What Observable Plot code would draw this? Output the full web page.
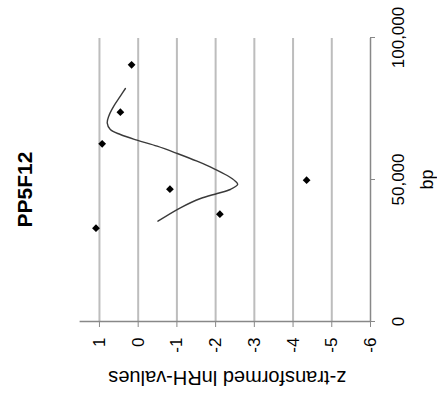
<!DOCTYPE html>
<html><head><meta charset="utf-8">
<script src="https://cdn.jsdelivr.net/npm/d3@7"></script>
<script src="https://cdn.jsdelivr.net/npm/@observablehq/plot@0.6"></script>
<style>
html,body{margin:0;padding:0;background:#fff;overflow:hidden;width:437px;height:398px;}
#rot{position:absolute;left:0;top:0;width:398px;height:437px;transform-origin:0 0;transform:translate(0px,398px) rotate(-90deg);}
</style></head><body><div id="rot"></div>
<script>
const titleText = "PP5F12";
const xLabel = "bp";
const yLabel = "z-transformed lnRH-values";

// measured loci
const pointBp = [32850, 37790, 46590, 49760, 62570, 73700, 90380];
const pointZ  = [1.09, -2.11, -0.82, -4.35, 0.93, 0.46, 0.17];

// fitted curve
const fitBp = [35320, 40030, 43310, 45070, 46480, 48240, 49390, 51400, 53870, 56440, 59150, 61730, 63840, 65840, 67600, 69960, 72300, 75810, 79330, 82040];
const fitZ  = [-0.51, -1.09, -1.61, -2.04, -2.38, -2.57, -2.51, -2.30, -1.95, -1.52, -1.01, -0.49, 0.03, 0.46, 0.72, 0.80, 0.76, 0.63, 0.46, 0.33];

const zTicks = [1, 0, -1, -2, -3, -4, -5, -6];
const gridZ = [1, 0, -1, -2, -3, -4, -5];
const bpTicks = [0, 50000, 100000];

const points = pointBp.map((b, i) => ({bp: b, z: pointZ[i]}));
const fit = fitBp.map((b, i) => ({bp: b, z: fitZ[i]}));

const chart = Plot.plot({
  width: 398, height: 437,
  marginLeft: 76, marginRight: 38, marginTop: 79.6, marginBottom: 67,
  style: {fontFamily: "'Liberation Sans', Arial, sans-serif", fontSize: "17px", background: "#fff", color: "#000"},
  x: {domain: [0, 100000]},
  y: {domain: [-6, 1.5]},
  marks: [
    Plot.ruleY(gridZ, {stroke: "#bdbdbd", strokeWidth: 2}),
    Plot.ruleX([0], {stroke: "#888", strokeWidth: 1.5}),
    Plot.ruleY([-6], {stroke: "#888", strokeWidth: 1.5}),
    Plot.axisX({ticks: bpTicks, tickFormat: d3.format(","), tickSize: 5, tickPadding: 16, stroke: "#888", fill: "#000", label: null}),
    Plot.axisY({ticks: zTicks, tickFormat: d => String(d), tickSize: 5, tickPadding: 11, stroke: "#888", fill: "#000", label: null}),
    Plot.line(fit, {x: "bp", y: "z", curve: "catmull-rom", stroke: "#3a3a3a", strokeWidth: 1.4}),
    Plot.dot(points, {x: "bp", y: "z", symbol: "diamond2", r: 3.5, fill: "#000", stroke: "none"}),
    Plot.text([titleText], {text: d => d, frameAnchor: "top", dx: -10, dy: -55, lineAnchor: "middle", fontSize: 21, fontWeight: "bold"}),
    Plot.text([yLabel], {text: d => d, frameAnchor: "left", rotate: -90, dx: -56, dy: 2, textAnchor: "middle", lineAnchor: "middle", fontSize: 20}),
    Plot.text([xLabel], {text: d => d, frameAnchor: "bottom", dy: 57, lineAnchor: "middle", fontSize: 18})
  ]
});
document.getElementById("rot").appendChild(chart);
</script>
</body></html>
